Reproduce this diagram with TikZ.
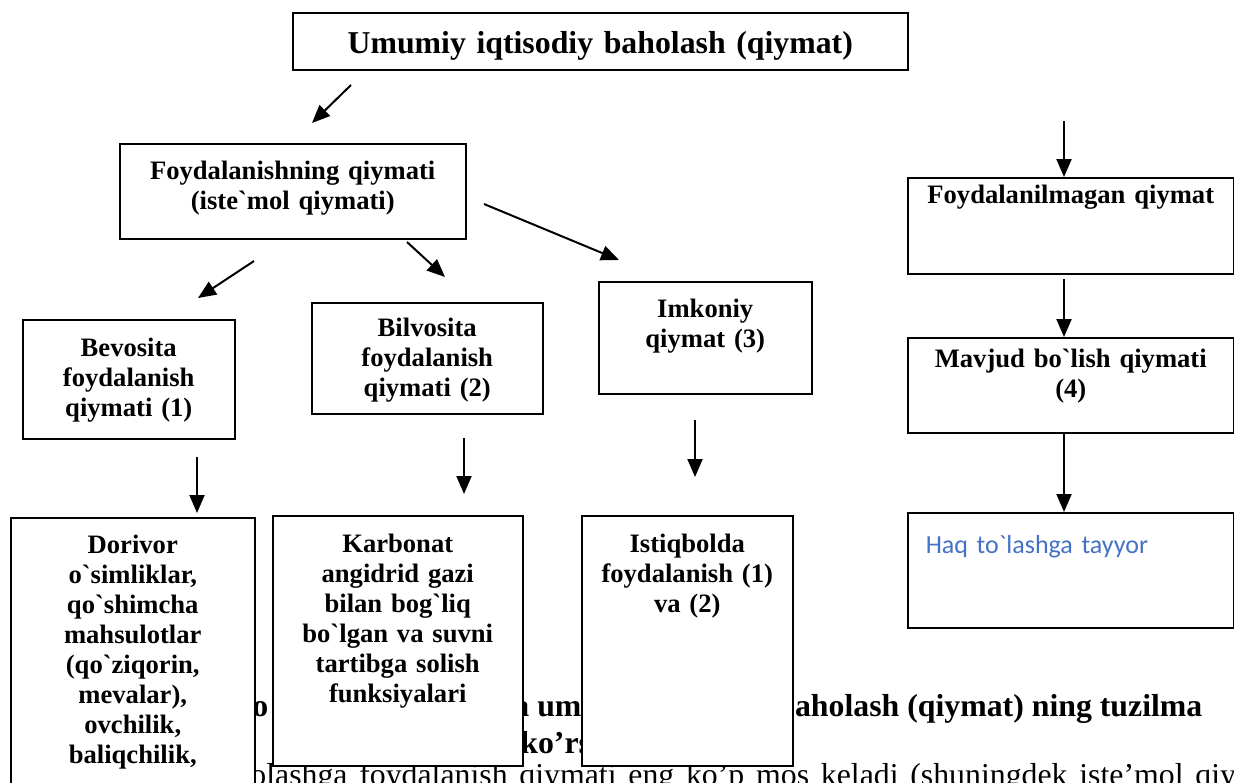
\documentclass[tikz,border=0pt]{standalone}
\usepackage{fontspec}
\setmainfont{Liberation Serif}[Ligatures=TeXOff]
\newfontfamily\calibrifont{Carlito}
\usetikzlibrary{arrows.meta}
\definecolor{wordblue}{RGB}{68,114,196}

\tikzset{
  box/.style={draw, fill=white, line width=0.75pt, anchor=north west, inner sep=0pt,
    align=center, font=\bfseries\fontsize{13.3pt}{15pt}\selectfont},
  arr/.style={line width=1pt, -{Triangle[length=9pt,width=7.5pt]}},
  bgtext/.style={anchor=base west, inner sep=0pt, font=\bfseries\fontsize{15.9pt}{18.5pt}\selectfont}
}

\begin{document}
\begin{tikzpicture}[x=0.5pt,y=-0.5pt]
\useasboundingbox (0,0) rectangle (1234,782);
\clip (0,0) rectangle (1234,782);

% text of the page behind the boxes
\node[bgtext] (bgo) at (252,716) {o};
\node[bgtext] (bgum) at (513,716) {a um};
\node[bgtext] (bgbah) at (777,716) {baholash (qiymat) ning tuzilma};
\node[bgtext] (bgkor) at (520,753) {ko’rs};
\node[bgtext, font=\fontsize{15.9pt}{18.5pt}\selectfont] (bgline) at (250,785)
  {\spaceskip=0.37em olashga foydalanish qiymati eng ko’p mos keladi (shuningdek iste’mol qiymati};

% boxes
\node[box, text width=307.5pt, text height=20.5pt, text depth=8pt,
  font=\bfseries\fontsize{15.9pt}{18pt}\selectfont] (total) at (292,12) {Umumiy iqtisodiy baholash (qiymat)};
\node[box, text width=173pt, text height=18pt, text depth=29.5pt] (use) at (119,143)
  {Foydalanishning qiymati\\(iste`mol qiymati)};
\node[box, text width=106pt, text height=18.5pt, text depth=41pt] (direct) at (22,319)
  {Bevosita\\foydalanish\\qiymati (1)};
\node[box, text width=115.5pt, text height=17pt, text depth=38.5pt] (indirect) at (311,302)
  {Bilvosita\\foydalanish\\qiymati (2)};
\node[box, text width=106.5pt, text height=18pt, text depth=38pt] (option) at (598,281)
  {Imkoniy\\qiymat (3)};
\node[box, text width=163pt, text height=13pt, text depth=35pt] (nonuse) at (907,177)
  {Foydalanilmagan qiymat};
\node[box, text width=163pt, text height=15pt, text depth=32.5pt] (exist) at (907,337)
  {Mavjud bo`lish qiymati\\(4)};
\node[box, inner xsep=9pt, text width=145pt, text height=20.5pt, text depth=37pt, align=left,
  text=wordblue, font=\calibrifont\fontsize{13pt}{15.6pt}\selectfont] (wtp) at (907,512)
  {Haq to`lashga tayyor};
\node[box, text width=122pt, text height=18pt, text depth=123.5pt] (herbs) at (10,517)
  {Dorivor\\o`simliklar,\\qo`shimcha\\mahsulotlar\\(qo`ziqorin,\\mevalar),\\ovchilik,\\baliqchilik,};
\node[box, text width=125pt, text height=18.5pt, text depth=106.5pt] (carbon) at (272,515)
  {Karbonat\\angidrid gazi\\bilan bog`liq\\bo`lgan va suvni\\tartibga solish\\funksiyalari};
\node[box, text width=105.5pt, text height=18.5pt, text depth=106.5pt] (future) at (581,515)
  {Istiqbolda\\foydalanish (1)\\va (2)};

% arrows
\coordinate (a1s) at (351,85);   \coordinate (a1e) at (312,123);
\coordinate (a2s) at (254,261);  \coordinate (a2e) at (198,298);
\coordinate (a3s) at (407,242);  \coordinate (a3e) at (445,277);
\coordinate (a4s) at (484,204);  \coordinate (a4e) at (619,260);
\coordinate (a5s) at (197,457);  \coordinate (a5e) at (197,513);
\coordinate (a6s) at (464,438);  \coordinate (a6e) at (464,494);
\coordinate (a7s) at (695,420);  \coordinate (a7e) at (695,477);
\coordinate (a8s) at (1064,121); \coordinate (a8e) at (1064,177);
\coordinate (a9s) at (1064,279); \coordinate (a9e) at (1064,337);
\coordinate (a10s) at (1064,432); \coordinate (a10e) at (1064,512);
\foreach \i in {1,...,10}
  \draw[arr] (a\i s) -- (a\i e);
\end{tikzpicture}
\end{document}
